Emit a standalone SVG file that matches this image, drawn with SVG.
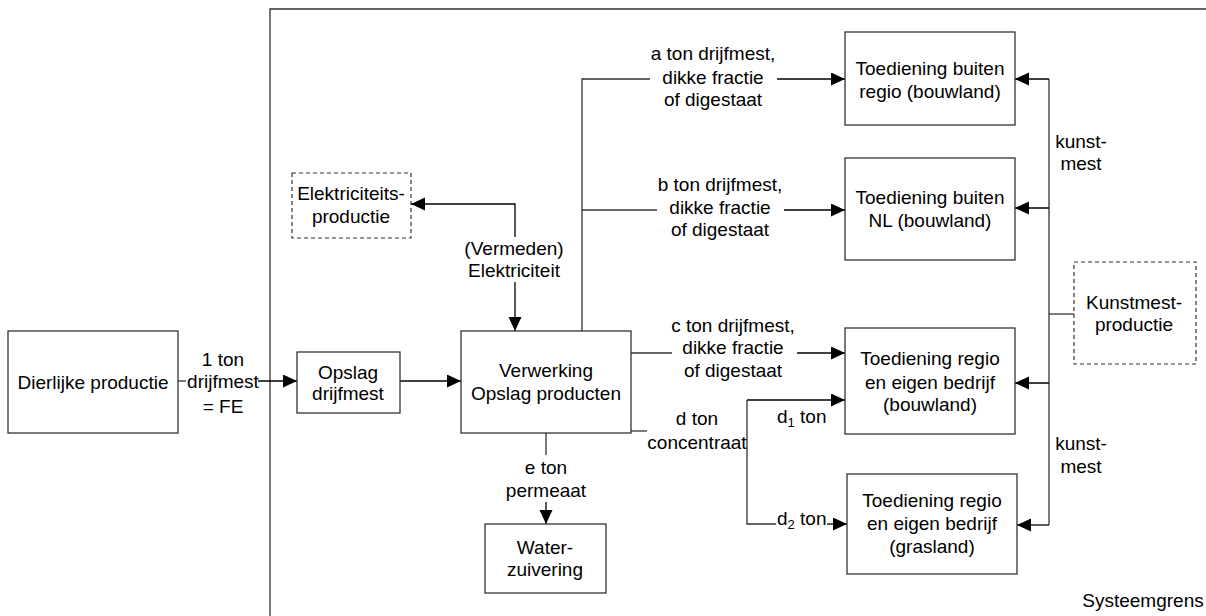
<svg xmlns="http://www.w3.org/2000/svg" width="1206" height="616" viewBox="0 0 1206 616">
<defs>
<marker id="arr" markerUnits="userSpaceOnUse" markerWidth="16" markerHeight="14" refX="14" refY="6.5" orient="auto">
<path d="M0,0 L14,6.5 L0,13 Z" fill="#000"/>
</marker>
<style>
text{font-family:"Liberation Sans",Arial,sans-serif;font-size:19px;fill:#000;text-anchor:middle}
.box{fill:#fff;stroke:#333;stroke-width:1.3}
.dash{fill:#fff;stroke:#333;stroke-width:1.2;stroke-dasharray:4,3}
.ln{fill:none;stroke:#333;stroke-width:1.3}
.ar{fill:none;stroke:#000;stroke-width:1.3;marker-end:url(#arr)}
.l{text-anchor:start}
</style>
</defs>
<rect width="1206" height="616" fill="#fff"/>
<g id="systeemgrens">
<path class="ln" d="M270,616 V9 H1206"/>
<text x="1143" y="607">Systeemgrens</text>
</g>
<g id="connectors">
<path class="ln" d="M178,381 H186"/>
<path class="ar" d="M258,381 H297"/>
<path class="ar" d="M400,381 H461"/>
<path class="ar" d="M515,237 V204 H411"/>
<path class="ar" d="M515,282 V331"/>
<path class="ln" d="M582,331 V79 H650"/>
<path class="ar" d="M777,79 H845"/>
<path class="ln" d="M582,210 H657"/>
<path class="ar" d="M784,210 H845"/>
<path class="ln" d="M631,353 H672"/>
<path class="ar" d="M797,353 H845"/>
<path class="ln" d="M631,431 H647"/>
<path class="ln" d="M776,524 H747 V400"/>
<path class="ar" d="M747,400 H845"/>
<path class="ar" d="M827,524 H847"/>
<path class="ln" d="M546,433 V455"/>
<path class="ar" d="M546,502 V524"/>
<path class="ln" d="M1049,79 V525"/>
<path class="ar" d="M1049,79 H1015"/>
<path class="ar" d="M1049,208 H1015"/>
<path class="ar" d="M1049,383 H1015"/>
<path class="ar" d="M1049,525 H1017"/>
<path class="ln" d="M1049,314 H1074"/>
<text x="223" y="366">1 ton</text>
<text x="223" y="388">drijfmest</text>
<text x="223" y="413">= FE</text>
<text x="514" y="255">(Vermeden)</text>
<text x="514" y="277">Elektriciteit</text>
<text x="713" y="60">a ton drijfmest,</text>
<text x="713" y="84">dikke fractie</text>
<text x="713" y="106">of digestaat</text>
<text x="720" y="191">b ton drijfmest,</text>
<text x="720" y="214">dikke fractie</text>
<text x="720" y="236">of digestaat</text>
<text x="733" y="332">c ton drijfmest,</text>
<text x="733" y="354">dikke fractie</text>
<text x="733" y="377">of digestaat</text>
<text x="697" y="425">d ton</text>
<text x="697" y="449">concentraat</text>
<text class="l" x="777" y="423">d<tspan font-size="13" dy="4">1</tspan><tspan dy="-4"> ton</tspan></text>
<text class="l" x="777" y="525">d<tspan font-size="13" dy="4">2</tspan><tspan dy="-4"> ton</tspan></text>
<text x="546" y="474">e ton</text>
<text x="546" y="497">permeaat</text>
<text x="1081" y="148">kunst-</text>
<text x="1081" y="170">mest</text>
<text x="1081" y="450">kunst-</text>
<text x="1081" y="473">mest</text>
</g>
<g id="dierlijke-productie">
<rect class="box" x="8" y="331" width="170" height="102"/>
<text x="93" y="389">Dierlijke productie</text>
</g>
<g id="opslag-drijfmest">
<rect class="box" x="297" y="352" width="103" height="61"/>
<text x="348" y="379">Opslag</text>
<text x="348" y="400">drijfmest</text>
</g>
<g id="verwerking">
<rect class="box" x="461" y="331" width="170" height="102"/>
<text x="546" y="377">Verwerking</text>
<text x="546" y="400">Opslag producten</text>
</g>
<g id="elektriciteitsproductie">
<rect class="dash" x="292" y="173" width="119" height="65"/>
<text x="351" y="200">Elektriciteits-</text>
<text x="351" y="223">productie</text>
</g>
<g id="water-zuivering">
<rect class="box" x="485" y="524" width="121" height="69"/>
<text x="545" y="554">Water-</text>
<text x="545" y="576">zuivering</text>
</g>
<g id="buiten-regio">
<rect class="box" x="845" y="32" width="170" height="93"/>
<text x="930" y="75">Toediening buiten</text>
<text x="930" y="98">regio (bouwland)</text>
</g>
<g id="buiten-nl">
<rect class="box" x="845" y="158" width="170" height="102"/>
<text x="930" y="204">Toediening buiten</text>
<text x="930" y="227">NL (bouwland)</text>
</g>
<g id="regio-bouwland">
<rect class="box" x="845" y="328" width="170" height="106"/>
<text x="930" y="365">Toediening regio</text>
<text x="930" y="389">en eigen bedrijf</text>
<text x="930" y="411">(bouwland)</text>
</g>
<g id="regio-grasland">
<rect class="box" x="847" y="474" width="170" height="100"/>
<text x="932" y="507">Toediening regio</text>
<text x="932" y="530">en eigen bedrijf</text>
<text x="932" y="553">(grasland)</text>
</g>
<g id="kunstmestproductie">
<rect class="dash" x="1074" y="262" width="122" height="102"/>
<text x="1134" y="309">Kunstmest-</text>
<text x="1134" y="331">productie</text>
</g>
</svg>
